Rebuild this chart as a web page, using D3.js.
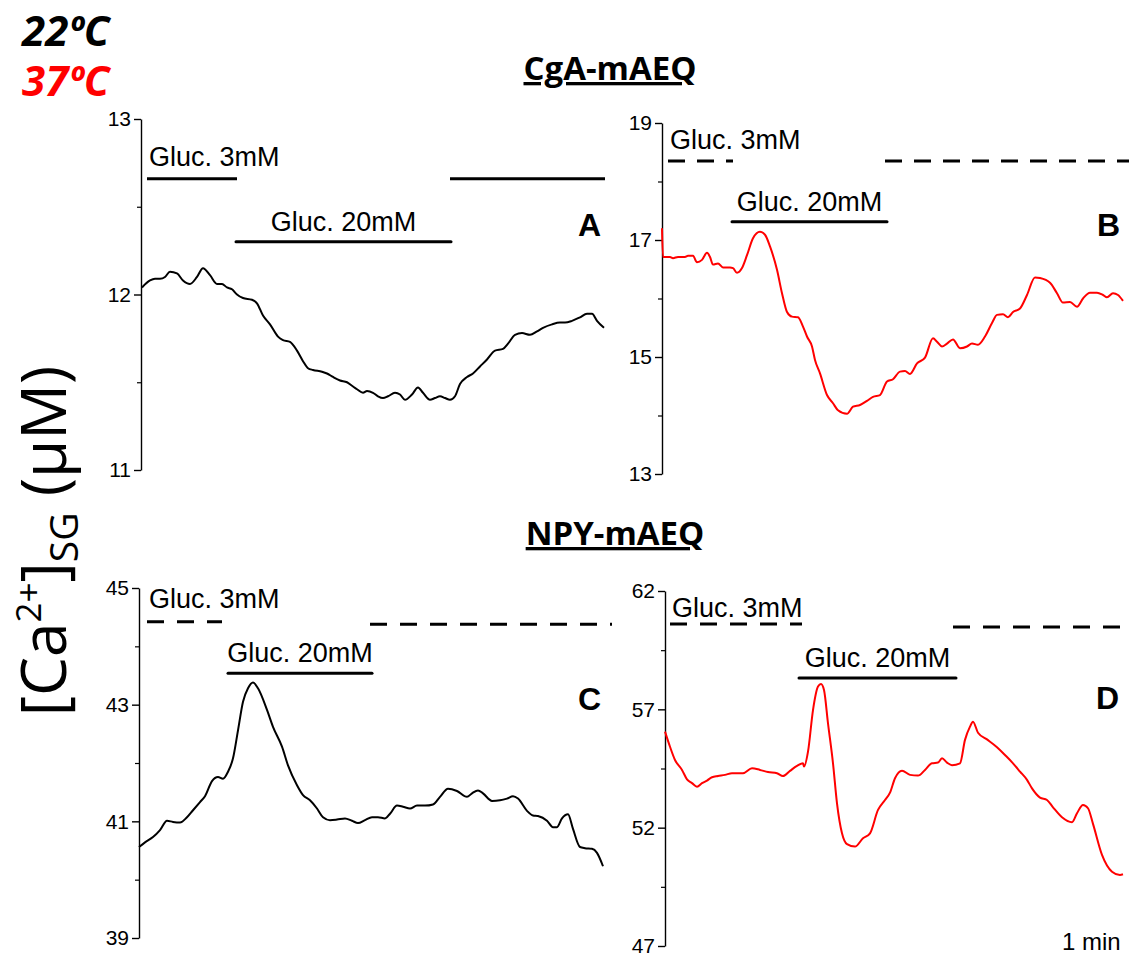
<!DOCTYPE html>
<html>
<head>
<meta charset="utf-8">
<script src="https://cdn.jsdelivr.net/npm/d3@7"></script>
<style>
body { margin: 0; background: #fff; }
</style>
</head>
<body>
<svg></svg>
<script>
// time (s from start of trace) and [Ca2+]SG (uM)
const tA = [1,9,14,19,24,29,36,42,49,56,62,69,76,81,86,91,96,102,111,116,122,129,137,142,149,156,162,167,172,181,186,192,199,206,211,216,222,226,232,237,242,247,254,259,264,271,277,282,289,294,299,304,309,314,319,326,332,339,346,354,362,367,374,381,389,396,402,411,419,424,431,439,446,451,456,463]
const caA = [12.04,12.08,12.09,12.09,12.10,12.13,12.12,12.08,12.06,12.10,12.15,12.11,12.06,12.06,12.04,12.03,12.00,11.98,11.97,11.95,11.88,11.83,11.76,11.74,11.73,11.68,11.62,11.58,11.57,11.56,11.55,11.53,11.51,11.50,11.48,11.46,11.44,11.45,11.44,11.42,11.41,11.42,11.44,11.43,11.40,11.43,11.47,11.44,11.40,11.41,11.42,11.41,11.40,11.42,11.49,11.53,11.55,11.59,11.63,11.68,11.69,11.72,11.77,11.78,11.77,11.79,11.81,11.83,11.84,11.84,11.85,11.87,11.89,11.89,11.85,11.81]

const tB = [0,1,8,11,16,23,26,31,35,40,45,48,51,56,61,68,71,75,80,85,91,98,103,108,115,120,125,130,136,141,145,150,153,158,165,171,176,185,191,198,205,211,218,225,231,238,243,248,255,263,271,275,280,285,291,298,305,310,316,323,330,335,341,346,351,358,365,373,378,388,395,401,408,415,421,428,435,441,445,451,456,461]
const caB = [17.20,16.71,16.71,16.69,16.71,16.71,16.73,16.73,16.62,16.66,16.78,16.71,16.58,16.60,16.53,16.53,16.52,16.44,16.52,16.74,17.03,17.14,17.09,16.89,16.49,16.09,15.77,15.69,15.68,15.52,15.35,15.18,14.95,14.72,14.35,14.21,14.09,14.03,14.15,14.18,14.25,14.32,14.35,14.58,14.62,14.75,14.76,14.71,14.89,14.99,15.32,15.26,15.18,15.23,15.30,15.15,15.18,15.23,15.21,15.35,15.58,15.72,15.73,15.68,15.77,15.83,16.06,16.36,16.35,16.27,16.09,15.93,15.94,15.86,16.00,16.10,16.10,16.06,16.02,16.09,16.06,15.96]

const tC = [0,6,14,21,28,34,41,48,54,61,66,73,79,84,89,94,99,104,109,114,119,128,134,143,149,158,164,171,178,184,191,198,206,213,219,226,233,239,246,251,258,264,271,278,286,294,301,309,318,328,333,339,344,353,361,368,374,379,388,394,399,408,414,418,423,429,434,441,446,453,458,464]
const caC = [40.56,40.64,40.73,40.85,41.01,40.99,40.98,41.07,41.19,41.33,41.43,41.69,41.76,41.73,41.85,42.08,42.56,43.05,43.28,43.38,43.28,42.91,42.62,42.28,41.96,41.62,41.45,41.36,41.22,41.07,41.02,41.03,41.05,41.01,40.97,41.02,41.07,41.07,41.05,41.13,41.27,41.25,41.22,41.27,41.27,41.29,41.42,41.56,41.52,41.42,41.48,41.53,41.48,41.35,41.36,41.39,41.43,41.39,41.18,41.10,41.09,41.01,40.90,40.90,41.05,41.12,40.87,40.56,40.54,40.53,40.46,40.23]

const tD = [0,5,10,17,22,27,32,37,42,47,53,60,67,78,87,95,103,112,118,125,132,138,139,143,148,153,156,159,163,168,172,177,182,190,198,205,213,220,225,230,237,245,253,260,267,273,277,282,287,295,300,305,308,313,322,332,340,348,355,362,367,375,382,388,397,407,412,418,423,428,437,447,455,458]
const caD = [56.06,55.42,54.86,54.44,54.04,53.88,53.73,53.88,53.99,54.13,54.18,54.23,54.30,54.30,54.51,54.44,54.35,54.30,54.18,54.40,54.61,54.72,54.58,55.21,56.97,57.96,58.07,57.82,56.41,54.72,53.03,51.76,51.30,51.20,51.55,51.76,52.75,53.17,53.48,54.09,54.41,54.23,54.20,54.44,54.72,54.75,54.93,54.75,54.64,54.72,55.71,56.27,56.48,56.01,55.73,55.40,55.07,54.72,54.37,54.02,53.66,53.27,53.17,52.86,52.44,52.23,52.61,52.96,52.82,52.16,50.85,50.14,50.00,50.03]

// glucose application periods (s)
const gluc3A = [[6, 96], [309, 464]]
const gluc20A = [95, 310]
const gluc3B = [[6, 71], [223, 470]]
const gluc20B = [70, 225]
const gluc3C = [[8, 83], [231, 473]]
const gluc20C = [89, 233]
const gluc3D = [[5, 137], [288, 470]]
const gluc20D = [134, 291]

// y axis ticks
const ticksA = [11, 12, 13], minorA = [11.5, 12.5]
const ticksB = [13, 15, 17, 19], minorB = [14, 16, 18]
const ticksC = [39, 41, 43, 45], minorC = [40, 42, 44]
const ticksD = [47, 52, 57, 62], minorD = [49.5, 54.5, 59.5]

const svg = d3.select('svg')
    .attr('width', 1129)
    .attr('height', 957)

const panels = [
    {name: 'A', t: tA, v: caA, color: '#000', left: 141, top: 119, bottom: 470, domain: [11, 13],
     ticks: ticksA, minor: minorA, g3: gluc3A, g20: gluc20A, lvl3: [12.66, 12.66], lvl20: 12.30, dash: null,
     lab3dy: -13, letterX: 578, letterY: 236},
    {name: 'B', t: tB, v: caB, color: '#ff0000', left: 662, top: 123, bottom: 474, domain: [13, 19],
     ticks: ticksB, minor: minorB, g3: gluc3B, g20: gluc20B, lvl3: [18.35, 18.35], lvl20: 17.31, dash: '17,12',
     lab3dy: -12, letterX: 1097, letterY: 236},
    {name: 'C', t: tC, v: caC, color: '#000', left: 139, top: 588, bottom: 938, domain: [39, 45],
     ticks: ticksC, minor: minorC, g3: gluc3C, g20: gluc20C, lvl3: [44.42, 44.38], lvl20: 43.54, dash: '17,13',
     lab3dy: -14, letterX: 578, letterY: 710},
    {name: 'D', t: tD, v: caD, color: '#ff0000', left: 665, top: 591, bottom: 946, domain: [47, 62],
     ticks: ticksD, minor: minorD, g3: gluc3D, g20: gluc20D, lvl3: [60.61, 60.48], lvl20: 58.32, dash: '17,13',
     lab3dy: -7, letterX: 1096, letterY: 709}
]

panels.forEach(p => {
    const x = d3.scaleLinear()
        .domain([0, 466])
        .range([p.left, p.left + 466])
    const y = d3.scaleLinear()
        .domain(p.domain)
        .range([p.bottom, p.top])

    const g = svg.append('g')

    // y axis
    const ax = g.append('g')
        .attr('transform', `translate(${p.left},0)`)
        .call(d3.axisLeft(y).tickValues(p.ticks).tickSize(7).tickSizeOuter(0).tickPadding(3)
            .tickFormat(d3.format('d')))
    ax.selectAll('path, line').attr('stroke', '#000').attr('stroke-width', 1.4)
    ax.selectAll('text')
        .attr('fill', '#000')
        .style('font-family', '"Liberation Sans", Arial, sans-serif')
        .style('font-size', '21px')

    const mx = g.append('g')
        .attr('transform', `translate(${p.left},0)`)
        .call(d3.axisLeft(y).tickValues(p.minor).tickSize(4).tickFormat(''))
    mx.select('.domain').remove()
    mx.selectAll('line').attr('stroke', '#000').attr('stroke-width', 1.2)

    // trace
    const line = d3.line()
        .x((d, i) => x(p.t[i]))
        .y(d => y(d))
        .curve(d3.curveMonotoneX)
    g.append('path')
        .attr('d', line(p.v))
        .attr('fill', 'none')
        .attr('stroke', p.color)
        .attr('stroke-width', 2)
        .attr('stroke-linejoin', 'round')

    // glucose bars
    g.selectAll('line.g3')
        .data(p.g3)
        .join('line')
        .attr('class', 'g3')
        .attr('x1', d => x(d[0]))
        .attr('x2', d => Math.min(x(d[1]), 1129))
        .attr('y1', (d, i) => y(p.lvl3[i]))
        .attr('y2', (d, i) => y(p.lvl3[i]))
        .attr('stroke', '#000')
        .attr('stroke-width', 3)
        .attr('stroke-dasharray', p.dash)

    g.append('line')
        .attr('x1', x(p.g20[0]))
        .attr('x2', x(p.g20[1]))
        .attr('y1', y(p.lvl20))
        .attr('y2', y(p.lvl20))
        .attr('stroke', '#000')
        .attr('stroke-width', 3)
        .attr('stroke-linecap', 'round')

    g.append('text')
        .attr('x', x(p.g3[0][0]) + 2)
        .attr('y', y(p.lvl3[0]) + p.lab3dy)
        .style('font-family', '"Liberation Sans", Arial, sans-serif')
        .style('font-size', '27px')
        .text('Gluc. 3mM')

    g.append('text')
        .attr('x', (x(p.g20[0]) + x(p.g20[1])) / 2)
        .attr('y', y(p.lvl20) - 11)
        .attr('text-anchor', 'middle')
        .style('font-family', '"Liberation Sans", Arial, sans-serif')
        .style('font-size', '27px')
        .text('Gluc. 20mM')

    g.append('text')
        .attr('x', p.letterX)
        .attr('y', p.letterY)
        .style('font-family', '"Liberation Sans", Arial, sans-serif')
        .style('font-weight', 'bold')
        .style('font-size', '32px')
        .text(p.name)
})

// titles
const titles = [
    {text: 'CgA-mAEQ', x: 610, y: 80},
    {text: 'NPY-mAEQ', x: 615, y: 545}
]
svg.selectAll('text.title')
    .data(titles)
    .join('text')
    .attr('class', 'title')
    .attr('x', d => d.x)
    .attr('y', d => d.y)
    .attr('text-anchor', 'middle')
    .style('font-family', '"Open Sans", sans-serif')
    .style('font-weight', 'bold')
    .style('font-size', '33px')
    .style('text-decoration', 'underline')
    .text(d => d.text)

// temperature legend
const temps = [
    {text: '22ºC', color: '#000', y: 46},
    {text: '37ºC', color: '#ff0000', y: 96}
]
svg.selectAll('text.temp')
    .data(temps)
    .join('text')
    .attr('class', 'temp')
    .attr('x', 22)
    .attr('y', d => d.y)
    .attr('fill', d => d.color)
    .style('font-family', '"Open Sans", sans-serif')
    .style('font-weight', 'bold')
    .style('font-style', 'italic')
    .style('font-size', '42px')
    .text(d => d.text)

// y axis title
const yt = svg.append('text')
    .attr('transform', 'translate(66,541) rotate(-90)')
    .attr('text-anchor', 'middle')
    .style('font-family', '"Open Sans", sans-serif')
    .style('font-size', '62px')
yt.append('tspan').text('[Ca')
yt.append('tspan').attr('dy', -25).style('font-size', '35px').text('2+')
yt.append('tspan').attr('dy', 25).text(']')
yt.append('tspan').attr('dy', 12).style('font-size', '39px').text('SG')
yt.append('tspan').attr('dy', -12).text(' (µM)')

// time scale label
svg.append('text')
    .attr('x', 1062)
    .attr('y', 950)
    .style('font-family', '"Liberation Sans", Arial, sans-serif')
    .style('font-size', '24px')
    .text('1 min')
</script>
</body>
</html>
